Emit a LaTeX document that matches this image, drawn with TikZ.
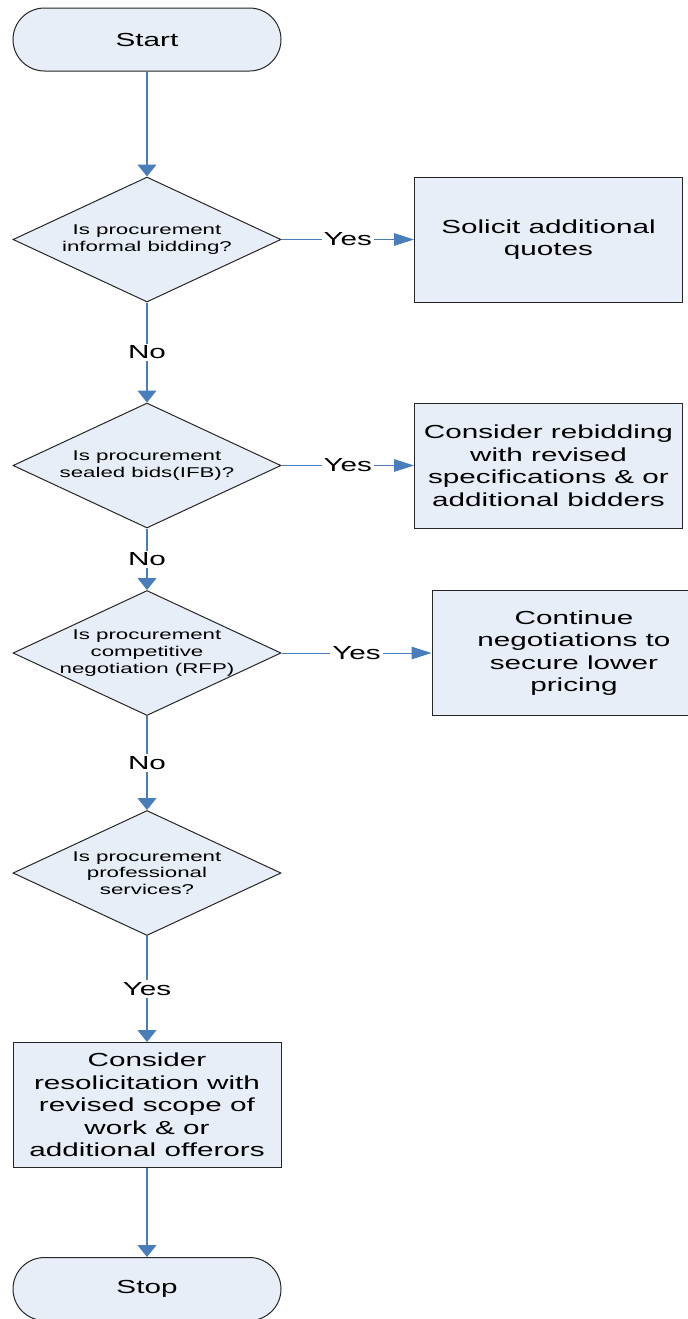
\documentclass[tikz,border=0pt]{standalone}
\usepackage{fontspec}
\setmainfont{Liberation Sans}[FakeStretch=1.57]
\usepackage{xcolor}
\usepackage{tikz}
\usetikzlibrary{shapes.geometric,arrows.meta}

\definecolor{shapefill}{RGB}{232,238,247}
\definecolor{flowblue}{RGB}{74,126,187}

\begin{document}
\begin{tikzpicture}[x=0.5pt,y=-0.5pt,
        terminal/.style={rectangle,rounded corners=15.75pt,draw=black!85,fill=shapefill,line width=0.5pt,
            minimum width=134pt,minimum height=31.5pt,font=\fontsize{9.45}{11.25}\selectfont},
        decision/.style={diamond,draw=black!85,fill=shapefill,line width=0.5pt,
            minimum width=134pt,minimum height=62.5pt,inner sep=0pt},
        dtext/.style={align=center,font=\fontsize{7.1}{8.4}\selectfont},
        process/.style={rectangle,draw=black!85,fill=shapefill,line width=0.5pt,
            minimum width=134pt,minimum height=62.5pt,inner sep=0pt,align=center,
            font=\fontsize{9.45}{11.25}\selectfont},
        down/.style={draw=flowblue,line width=0.6pt,-{Triangle[length=6pt,width=9.5pt]}},
        across/.style={draw=flowblue,line width=0.5pt,-{Triangle[length=10pt,width=6.3pt]}},
        answer/.style={fill=white,inner sep=1pt,font=\fontsize{9.45}{11.25}\selectfont}]
            % Page size
            \useasboundingbox (0,0) rectangle (688,1319);
            \def\mainX{147}

            % Start and questions
            \node[terminal] (start) at (\mainX,39.5) {Start};
            \node[decision,label={[dtext]center:Is procurement\\informal bidding?}] (informal) at (\mainX,239.5) {};
            \node[decision,label={[dtext]center:Is procurement\\sealed bids(IFB)?}] (sealed) at (\mainX,465.5) {};
            \node[decision,label={[dtext]center:Is procurement\\competitive\\negotiation (RFP)}] (rfp) at (\mainX,653) {};
            \node[decision,label={[dtext]center:Is procurement\\professional\\services?}] (services) at (\mainX,873) {};

            % Actions
            \node[process] (quotes) at (548.5,239.5) {Solicit additional\\quotes};
            \node[process] (rebid) at (548.5,465.5) {Consider rebidding\\with revised\\specifications \& or\\additional bidders};
            \node[process,minimum width=142pt] (negotiate) at (574,653) {Continue\\negotiations to\\secure lower\\pricing};
            \node[process] (resolicit) at (\mainX,1105) {Consider\\resolicitation with\\revised scope of\\work \& or\\additional offerors};
            \node[terminal] (stop) at (\mainX,1289) {Stop};

            % Yes branches
            \draw[across] (informal) -- node[answer] {Yes} (quotes);
            \draw[across] (sealed) -- node[answer] {Yes} (rebid);
            \draw[across] (rfp) -- node[answer] {Yes} (negotiate);

            % Main line
            \draw[down] (start) -- (informal);
            \draw[down] (informal) -- node[answer] {No} (sealed);
            \draw[down] (sealed) -- node[answer] {No} (rfp);
            \draw[down] (rfp) -- node[answer] {No} (services);
            \draw[down] (services) -- node[answer] {Yes} (resolicit);
            \draw[down] (resolicit) -- (stop);

\end{tikzpicture}
\end{document}
